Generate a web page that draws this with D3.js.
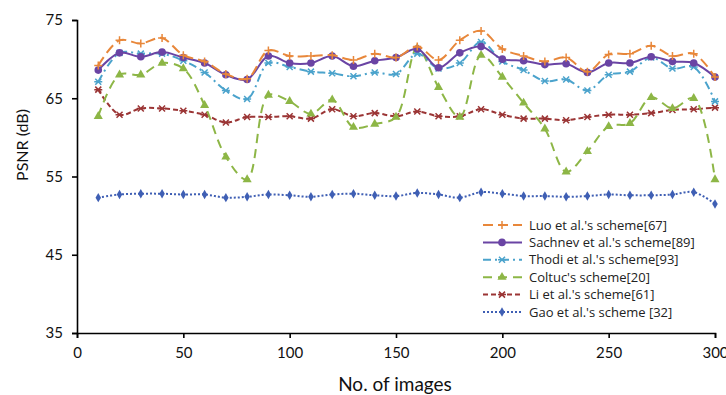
<!DOCTYPE html>
<html lang="en">
<head>
    <meta charset="UTF-8">
    <title>PSNR vs No. of images</title>
    <script src="https://d3js.org/d3.v7.min.js"></script>
    <style>
        body { margin: 0; background: #fff; }
        .axis text { font-family: Lato, sans-serif; font-size: 15px; fill: #111; }
        .axis path, .axis line { stroke: #000; stroke-width: 1.6px; }
        .legend text { font-family: "Open Sans", sans-serif; font-size: 13px; fill: #222; }
    </style>
</head>
<body>
    <svg id="chart" width="726" height="395"></svg>

    <script>
        // x values: image counts
        const images = d3.range(10, 301, 10);

        // PSNR values
        const luo = [69.2, 72.4, 72.0, 72.7, 70.5, 69.7, 68.1, 67.5, 71.1, 70.4,
                     70.4, 70.5, 69.9, 70.7, 70.2, 71.6, 69.9, 72.4, 73.6, 71.3,
                     70.4, 69.7, 70.2, 68.4, 70.6, 70.7, 71.7, 70.4, 70.7, 67.7];
        const sachnev = [68.6, 70.8, 70.3, 70.9, 70.2, 69.5, 68.0, 67.4, 70.4, 69.5,
                         69.5, 70.4, 69.1, 69.8, 70.2, 71.3, 68.9, 70.8, 71.6, 70.0,
                         69.8, 69.3, 69.4, 68.3, 69.5, 69.5, 70.3, 69.7, 69.5, 67.7];
        const thodi = [67.1, 70.8, 70.7, 70.7, 69.8, 68.3, 66.0, 64.9, 69.5, 69.0,
                       68.4, 68.2, 67.8, 68.3, 68.1, 70.7, 68.8, 69.5, 72.2, 69.7,
                       68.6, 67.2, 67.4, 66.0, 68.0, 68.4, 70.2, 68.8, 69.0, 64.6];
        const coltuc = [62.7, 68.0, 68.0, 69.5, 68.8, 64.1, 57.5, 54.6, 65.4, 64.6,
                        63.0, 64.8, 61.3, 61.7, 62.6, 71.4, 66.4, 62.6, 70.5, 67.7,
                        64.4, 61.1, 55.6, 58.2, 61.4, 61.8, 65.1, 63.7, 65.0, 54.6];
        const li = [66.1, 62.9, 63.7, 63.7, 63.4, 62.9, 61.9, 62.6, 62.6, 62.7,
                    62.4, 63.6, 62.7, 63.1, 62.7, 63.3, 62.7, 62.7, 63.6, 62.9,
                    62.4, 62.4, 62.2, 62.6, 62.9, 62.9, 63.1, 63.5, 63.6, 63.8];
        const gao = [52.3, 52.7, 52.8, 52.8, 52.7, 52.7, 52.3, 52.4, 52.7, 52.6,
                     52.4, 52.7, 52.8, 52.6, 52.5, 52.9, 52.7, 52.3, 53.0, 52.8,
                     52.5, 52.5, 52.4, 52.5, 52.7, 52.6, 52.6, 52.7, 53.0, 51.5];

        const xTicks = [0, 50, 100, 150, 200, 250, 300];
        const yTicks = [35, 45, 55, 65, 75];

        const series = [
            { name: "Luo et al.'s scheme[67]", values: luo, color: "#E8873A", dash: "10,5", marker: "plus" },
            { name: "Sachnev et al.'s scheme[89]", values: sachnev, color: "#6A44A4", dash: null, marker: "circle" },
            { name: "Thodi et al.'s scheme[93]", values: thodi, color: "#4BA3CC", dash: "8,4,2,4", marker: "cross" },
            { name: "Coltuc's scheme[20]", values: coltuc, color: "#8DB646", dash: "9,6", marker: "triangle" },
            { name: "Li et al.'s scheme[61]", values: li, color: "#9B3535", dash: "5,3", marker: "cross" },
            { name: "Gao et al.'s scheme [32]", values: gao, color: "#3F5FB4", dash: "2,2", marker: "diamond" }
        ];

        const margin = { left: 77, right: 11, top: 20, bottom: 62 };
        const width = 726, height = 395;

        const svg = d3.select("#chart");

        const x = d3.scaleLinear().domain([0, 300]).range([margin.left, width - margin.right]);
        const y = d3.scaleLinear().domain([35, 75]).range([height - margin.bottom, margin.top]);

        // axes
        svg.append("g")
            .attr("class", "axis")
            .attr("transform", `translate(0,${y(35)})`)
            .call(d3.axisBottom(x).tickValues(xTicks).tickSizeOuter(0).tickSize(5).tickPadding(9));

        svg.append("g")
            .attr("class", "axis")
            .attr("transform", `translate(${x(0)},0)`)
            .call(d3.axisLeft(y).tickValues(yTicks).tickSizeOuter(0).tickSize(5).tickPadding(9));

        svg.append("text")
            .attr("x", 395)
            .attr("y", 391)
            .attr("text-anchor", "middle")
            .attr("font-family", "Lato, sans-serif")
            .attr("font-size", "19px")
            .attr("fill", "#111")
            .text("No. of images");

        svg.append("text")
            .attr("transform", "translate(28,145) rotate(-90)")
            .attr("text-anchor", "middle")
            .attr("font-family", "Lato, sans-serif")
            .attr("font-size", "16px")
            .attr("fill", "#111")
            .text("PSNR (dB)");

        const line = d3.line()
            .x((d, i) => x(images[i]))
            .y(d => y(d))
            .curve(d3.curveCatmullRom.alpha(0.5));

        function drawMarker(g, type, color, cx, cy) {
            if (type === "circle") {
                g.append("circle").attr("cx", cx).attr("cy", cy).attr("r", 3.8).attr("fill", color);
            } else if (type === "triangle") {
                g.append("path").attr("d", d3.symbol(d3.symbolTriangle, 36)())
                    .attr("transform", `translate(${cx},${cy})`).attr("fill", color);
            } else if (type === "diamond") {
                g.append("path").attr("d", d3.symbol(d3.symbolDiamond, 26)())
                    .attr("transform", `translate(${cx},${cy})`).attr("fill", color);
            } else if (type === "plus") {
                g.append("path").attr("d", "M-4,0H4M0,-4V4")
                    .attr("transform", `translate(${cx},${cy})`)
                    .attr("stroke", color).attr("stroke-width", 1.5);
            } else if (type === "cross") {
                g.append("path").attr("d", "M-3,-3L3,3M-3,3L3,-3M-4,0H4")
                    .attr("transform", `translate(${cx},${cy})`)
                    .attr("stroke", color).attr("stroke-width", 1.5);
            }
        }

        // draw series, bottom one first so the top lines sit over the others
        series.slice().reverse().forEach(s => {
            const g = svg.append("g");
            g.append("path")
                .datum(s.values)
                .attr("d", line)
                .attr("fill", "none")
                .attr("stroke", s.color)
                .attr("stroke-width", 2)
                .attr("stroke-dasharray", s.dash);
            s.values.forEach((v, i) => drawMarker(g, s.marker, s.color, x(images[i]), y(v)));
        });

        // legend
        const legend = svg.append("g").attr("class", "legend");
        series.forEach((s, i) => {
            const ly = 225 + i * 17.4;
            legend.append("line")
                .attr("x1", 483).attr("x2", 522)
                .attr("y1", ly).attr("y2", ly)
                .attr("stroke", s.color)
                .attr("stroke-width", 2)
                .attr("stroke-dasharray", s.dash);
            drawMarker(legend, s.marker, s.color, 502, ly);
            legend.append("text")
                .attr("x", 529)
                .attr("y", ly)
                .attr("dy", "0.35em")
                .text(s.name);
        });
    </script>
</body>
</html>
